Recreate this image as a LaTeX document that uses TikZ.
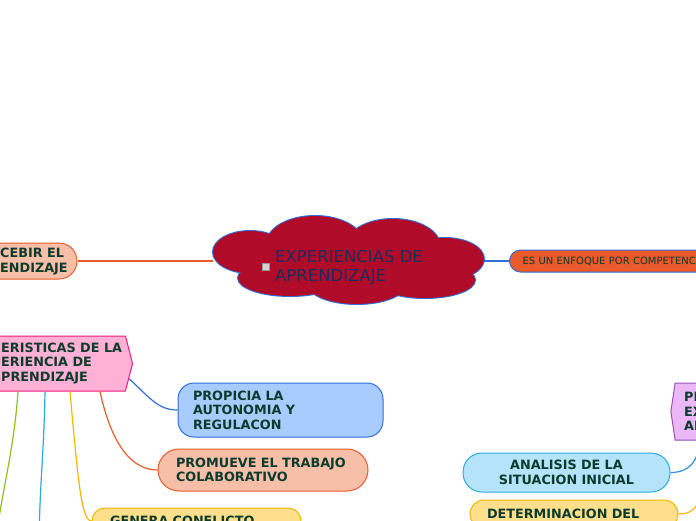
\documentclass[tikz,border=0pt]{standalone}
\usepackage{fontspec}
\setmainfont{DejaVu Sans}
\usetikzlibrary{shapes.symbols,calc}

\definecolor{rojoexp}{HTML}{B00C2A}
\definecolor{azulnoche}{HTML}{1C2A5C}
\definecolor{txtverde}{HTML}{0B3B2C}
\definecolor{naranja}{HTML}{EB5A2A}
\definecolor{naranjaclaro}{HTML}{F8BFA8}
\definecolor{azul}{HTML}{2F6FD8}
\definecolor{azulclaro}{HTML}{A9CCFF}
\definecolor{rosa}{HTML}{FFB0D5}
\definecolor{rosaborde}{HTML}{F0197D}
\definecolor{amarillo}{HTML}{FFDF8C}
\definecolor{amarilloborde}{HTML}{F7B500}
\definecolor{cian}{HTML}{B5E4FA}
\definecolor{cianborde}{HTML}{2BAAE2}
\definecolor{lila}{HTML}{EBB8F5}
\definecolor{lilaborde}{HTML}{9A4FB8}
\definecolor{verde}{HTML}{8CC21A}

\begin{document}
\begin{tikzpicture}[x=1pt, y=-1pt,
    tema/.style={draw, line width=1pt, text=txtverde, inner ysep=0pt,
        font=\fontsize{12.8}{14.5}\selectfont\bfseries},
    rotulo/.style={anchor=west, align=left, inner sep=0pt, text=txtverde,
        font=\fontsize{12.8}{14.5}\selectfont\bfseries},
    linea/.style={line width=1.2pt}]

\fill[white] (0,0) rectangle (696,520);
\useasboundingbox (0,0) rectangle (696,520);
\clip (0,0) rectangle (696,520);

% central topic (cloud made of puffs)
\node[minimum width=271pt, minimum height=86pt, inner sep=0pt] (exp) at (348.5,261) {};
\foreach \cx/\cy/\rx/\ry in {315/243/48/27, 393/246/47/27, 250/252/37/21, 445/259/39/21,
    290/278/52/18, 357/283/50/21, 425/280/50/18, 348/262/100/30}
  \draw[azul, line width=2pt] (\cx,\cy) ellipse [x radius=\rx pt, y radius=\ry pt];
\foreach \cx/\cy/\rx/\ry in {315/243/48/27, 393/246/47/27, 250/252/37/21, 445/259/39/21,
    290/278/52/18, 357/283/50/21, 425/280/50/18, 348/262/100/30}
  \fill[rojoexp] (\cx,\cy) ellipse [x radius=\rx pt, y radius=\ry pt];
\node[anchor=west, align=left, inner sep=0pt, text=azulnoche,
    font=\fontsize{16.5}{19}\selectfont] (exptxt) at (275,267.5) {EXPERIENCIAS DE\\APRENDIZAJE};
\node[draw=gray!80, fill=gray!35, line width=0.6pt, minimum size=7pt, inner sep=0pt] (icono) at (266,267) {};

% left branch
\node[tema, fill=naranjaclaro, draw=naranja, rounded corners=18pt,
    minimum width=114pt, minimum height=36pt] (concebir) at (20,261) {};
\node[rotulo] (concebirtxt) at (0,261.5) {CEBIR EL\\ENDIZAJE};
\draw[linea, naranja] (concebir.east) -- (exp.west);

% right branch
\node[tema, anchor=west, fill=naranja, draw=azul, rounded corners=11pt, minimum height=22pt,
    inner xsep=13pt, text width=200pt, align=left,
    font=\fontsize{10}{12}\selectfont] (enfoque) at (509,261) {ES UN ENFOQUE POR COMPETENC};
\draw[linea, azul] (exp.east) -- (enfoque.west);

% caracteristicas
\node[signal, signal to=east, signal pointer angle=151, fill=rosa, draw=rosaborde,
    line width=1pt, minimum width=193pt, minimum height=55pt, inner sep=0pt] (caract) at (32.5,363.5) {};
\node[rotulo] (caracttxt) at (1,363.5) {ERISTICAS DE LA\\ERIENCIA DE\\PRENDIZAJE};

\node[tema, fill=azulclaro, draw=azul, rounded corners=16pt, minimum height=54pt,
    text width=175pt, inner xsep=15pt, align=left] (propicia) at (280.5,410) {PROPICIA LA\\AUTONOMIA Y\\REGULACON};
\node[tema, fill=naranjaclaro, draw=naranja, rounded corners=21pt, minimum height=42pt,
    text width=174pt, inner xsep=18pt, align=left] (promueve) at (263,470) {PROMUEVE EL TRABAJO\\COLABORATIVO};
\node[tema, fill=amarillo, draw=amarilloborde, rounded corners=13pt, minimum height=26pt,
    text width=173pt, inner xsep=18pt, align=left] (genera) at (196.5,521) {GENERA CONFLICTO};

\coordinate (verdefin) at (-4,540);
\coordinate (cianfin) at (39,540);
\draw[linea, verde] ([xshift=-14.5pt]caract.south) .. controls +(-4,60) and +(4,-40) .. (verdefin);
\draw[linea, cianborde] ([xshift=12.5pt]caract.south) .. controls +(-1,60) and +(1,-60) .. (cianfin);
\draw[linea, amarilloborde] ([xshift=37.5pt]caract.south) .. controls +(8,89) and +(-10,0) .. (genera.west);
\draw[linea, naranja] ([xshift=67.5pt]caract.south) .. controls +(12,55) and +(-25,0) .. (promueve.west);
\draw[linea, azul] (caract.-9) .. controls +(20,18) and +(-20,0) .. (propicia.west);

% planificacion
\node[signal, signal to=west, signal pointer angle=163, fill=lila, draw=lilaborde,
    line width=1pt, minimum width=54pt, minimum height=57pt, inner sep=0pt] (planif) at (700,411.5) {};
\node[rotulo] (planiftxt) at (684,411.5) {PL\\EX\\AP};

\node[tema, fill=cian, draw=cianborde, rounded corners=19pt, minimum height=39pt,
    text width=177pt, inner xsep=15pt, align=center] (analisis) at (566.5,472.5) {ANALISIS DE LA\\SITUACION INICIAL};
\node[tema, fill=amarillo, draw=amarilloborde, rounded corners=14pt, minimum height=28pt,
    text width=174pt, inner xsep=17pt, align=left] (determ) at (574,514) {DETERMINACION DEL};

\draw[linea, cianborde!60!azul] (planif.south) .. controls +(-2,22) and +(18,0) .. (analisis.east);
\draw[linea, amarilloborde] ([xshift=8pt]planif.south) .. controls +(-2,65) and +(17,0) .. (determ.east);
\end{tikzpicture}
\end{document}
